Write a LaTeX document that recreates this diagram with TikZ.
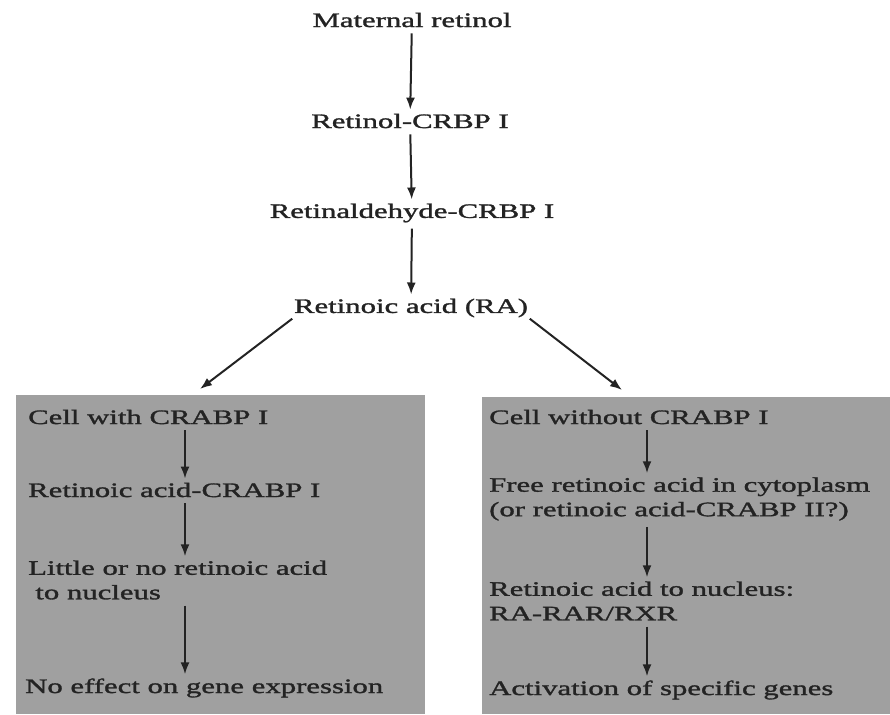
\documentclass[tikz,border=0pt]{standalone}
\usepackage{fontspec}
\setmainfont[FakeStretch=1.5,FakeBold=1.5]{Liberation Serif}
\usetikzlibrary{positioning,arrows.meta}

\definecolor{boxgray}{RGB}{160,160,160}
\definecolor{inkgray}{RGB}{35,35,35}

\begin{document}
\begin{tikzpicture}[x=1pt, y=-1pt, font=\fontsize{20.5}{24.5}\selectfont, text=inkgray,
    stage/.style = {inner sep=0pt},
    cellstage/.style = {inner sep=0pt, anchor=west, align=left},
    flow/.style = {draw=inkgray, line width=2pt, -{Latex[length=12pt,width=9pt]}, shorten <=6pt, shorten >=4pt}]
  \useasboundingbox (0,0) rectangle (890,714);

  % the two cell boxes
  \fill[boxgray] (16,395) rectangle (425,714);
  \fill[boxgray] (482,397) rectangle (890,714);

  % main pathway
  \node[stage] (mat) at (412,20) {Maternal retinol};
  \node[stage] (rol) at (410,121) {Retinol-CRBP I};
  \node[stage] (ald) at (412,213) {Retinaldehyde-CRBP I};
  \node[stage] (ra) at (411,308) {Retinoic acid (RA)};
  \draw[flow] (mat) -- (rol);
  \draw[flow] (rol) -- (ald);
  \draw[flow] (ald) -- (ra);

  % cell with CRABP I
  \coordinate (colL) at (185,0);
  \node[cellstage] (l1) at (28,417) {Cell with CRABP I};
  \node[cellstage] (l2) at (28,490) {Retinoic acid-CRABP I};
  \node[cellstage] (l3) at (28,580) {Little or no retinoic acid\\\hspace{0.35em}to nucleus};
  \node[cellstage] (l4) at (25,688) {No effect on gene expression};
  \draw[flow] (l1.south -| colL) -- (l2.north -| colL);
  \draw[flow] (l2.south -| colL) -- (l3.north -| colL);
  \draw[flow] (l3.south -| colL) -- (l4.north -| colL);

  % cell without CRABP I
  \coordinate (colR) at (647,0);
  \node[cellstage] (r1) at (489,417) {Cell without CRABP I};
  \node[cellstage] (r2) at (489,499) {Free retinoic acid in cytoplasm\\(or retinoic acid-CRABP II?)};
  \node[cellstage] (r3) at (489,601) {Retinoic acid to nucleus:\\RA-RAR/RXR};
  \node[cellstage] (r4) at (489,690) {Activation of specific genes};
  \draw[flow] (r1.south -| colR) -- (r2.north -| colR);
  \draw[flow] (r2.south -| colR) -- (r3.north -| colR);
  \draw[flow] (r3.south -| colR) -- (r4.north -| colR);

  % branches
  \coordinate (toL) at (200,389);
  \coordinate (toR) at (622,390);
  \draw[flow, shorten <=2pt, shorten >=0pt] (ra.south west) -- (toL);
  \draw[flow, shorten <=2pt, shorten >=0pt] (ra.south east) -- (toR);
\end{tikzpicture}
\end{document}
